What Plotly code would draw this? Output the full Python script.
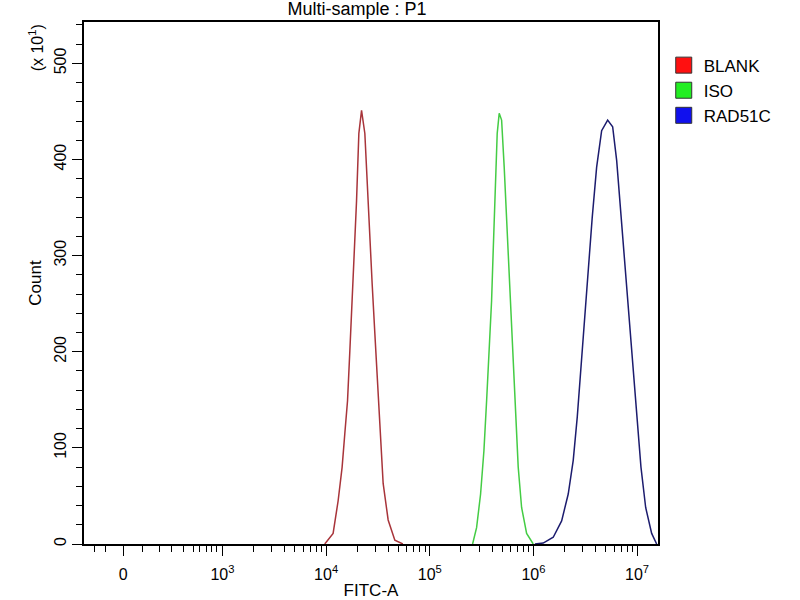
import plotly.graph_objects as go

# ---- data ----
blank_fitc = [9700, 11680, 13060, 14270, 15150, 16090, 16940, 17820, 18630, 19660,
              20690, 21970, 23640, 24880, 26420, 27800, 29520, 31340, 32980, 35500,
              39670, 46040, 55020]
blank_count = [0, 11, 45, 80, 115, 149, 201, 253, 305, 357,
               427, 451, 427, 375, 323, 271, 219, 167, 115, 63,
               25, 4, 0]

iso_fitc = [258900, 283000, 309300, 333000, 353500, 374500, 394900, 409300, 428000,
            447300, 467600, 493300, 522600, 551200, 580100, 606400, 638300, 673300,
            713400, 769100, 859900, 995700]
iso_count = [0, 17, 52, 97, 149, 201, 253, 305, 375,
             427, 448, 441, 392, 340, 288, 236, 184, 132,
             80, 38, 11, 0]

rad_fitc = [1034000, 1243000, 1553000, 1872000, 2167000, 2422000, 2648000, 2873000,
            3142000, 3381000, 3695000, 4074000, 4552000, 5203000, 5814000, 6356000,
            6945000, 7641000, 8353000, 9069000, 9911000, 10905000, 12106000,
            13830000, 15460000]
rad_count = [0, 1, 7, 24, 52, 87, 132, 184,
             236, 288, 340, 392, 430, 441, 434, 399,
             347, 288, 236, 184, 132, 80, 38,
             11, 0]

series_names = ["BLANK", "ISO", "RAD51C"]
line_colors = ["#a8343a", "#44cc44", "#1c1c6e"]
legend_colors = ["#ff1010", "#22ee22", "#1010ee"]

x_tick_vals = [110, 1e3, 1e4, 1e5, 1e6, 1e7]
x_tick_text = ["0", "10<sup>3</sup>", "10<sup>4</sup>", "10<sup>5</sup>",
               "10<sup>6</sup>", "10<sup>7</sup>"]
x_minor_vals = [58, 74, 171, 248, 322, 417, 520, 604, 701, 783, 875] + \
    [m * 10 ** e for e in range(3, 7) for m in range(2, 10)]
y_tick_vals = [0, 100, 200, 300, 400, 500]

FONT = "Liberation Sans, Arial, sans-serif"

fig = go.Figure()
for name, xs, ys, col in zip(series_names, [blank_fitc, iso_fitc, rad_fitc],
                             [blank_count, iso_count, rad_count], line_colors):
    fig.add_trace(go.Scatter(x=xs, y=ys, mode="lines", name=name,
                             line=dict(color=col, width=1.5), showlegend=False))
for name, col in zip(series_names, legend_colors):
    fig.add_trace(go.Scatter(x=[None], y=[None], mode="markers", name=name,
                             marker=dict(symbol="square", size=17, color=col,
                                         line=dict(color="#333333", width=1))))

fig.update_layout(
    width=800, height=600,
    margin=dict(l=84, r=142, t=22, b=56, autoexpand=False),
    paper_bgcolor="white", plot_bgcolor="white",
    font=dict(family=FONT, color="black", size=16),
    title=dict(text="Multi-sample : P1", x=0.4756, xref="paper", xanchor="center",
               y=0.985, yref="container", yanchor="middle",
               font=dict(size=18, family=FONT, color="black")),
    legend=dict(x=1.01, xanchor="left", y=0.951, yanchor="top",
                font=dict(size=17, family=FONT), bgcolor="rgba(0,0,0,0)",
                itemwidth=30, tracegroupgap=0),
    xaxis=dict(type="log", range=[1.664, 7.202],
               tickmode="array", tickvals=x_tick_vals, ticktext=x_tick_text,
               ticks="outside", ticklen=10, tickwidth=1.2, tickcolor="black",
               minor=dict(tickmode="array", tickvals=x_minor_vals, ticks="outside",
                          ticklen=6, tickwidth=1.2, tickcolor="black"),
               showline=True, linecolor="black", linewidth=1.5, mirror=True,
               showgrid=False, zeroline=False,
               tickfont=dict(size=16), ticklabelstandoff=5,
               title=dict(text="FITC-A", font=dict(size=17), standoff=4)),
    yaxis=dict(range=[0, 543], tickmode="array", tickvals=y_tick_vals,
               ticks="outside", ticklen=10, tickwidth=1.2, tickcolor="black",
               minor=dict(dtick=20, ticks="outside", ticklen=6, tickwidth=1.2,
                          tickcolor="black"),
               tickangle=-90, tickfont=dict(size=16),
               showline=True, linecolor="black", linewidth=1.5, mirror=True,
               showgrid=False, zeroline=False,
               title=dict(text="Count", font=dict(size=17), standoff=6)),
)

fig.add_annotation(text="(x 10<sup>1</sup>)", textangle=-90, showarrow=False,
                   xref="paper", yref="paper",
                   x=-0.083, y=(544 - 48) / 522, xanchor="center", yanchor="middle",
                   font=dict(size=16, family=FONT))

fig.write_html("out.html", config={"displayModeBar": False},
               post_script="document.body.style.margin='0';document.body.style.overflow='hidden';")
